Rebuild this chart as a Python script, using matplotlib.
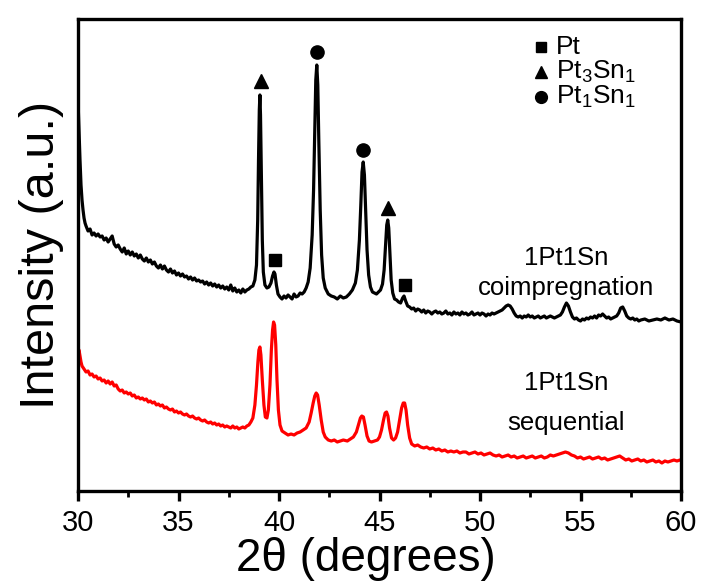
import numpy as np
import matplotlib
matplotlib.use("Agg")
import matplotlib.pyplot as plt

# ---------------- data ----------------
# readings are measured downward from a reference level; intensity = REF - reading
REF = 491

black_theta = [30.00, 30.05, 30.10, 30.15, 30.20, 30.25, 30.30, 30.35,
    30.4, 30.5, 30.6, 30.7, 30.8, 30.9, 31.0, 31.1, 31.2, 31.3, 31.4, 31.5, 31.6, 31.7, 31.8, 31.9,
    32.0, 32.1, 32.2, 32.3, 32.4, 32.5, 32.6, 32.7, 32.8, 32.9, 33.0, 33.1, 33.2, 33.3, 33.4, 33.5,
    33.6, 33.7, 33.8, 33.9, 34.0, 34.1, 34.2, 34.3, 34.4, 34.5, 34.6, 34.7, 34.8, 34.9, 35.0, 35.1,
    35.2, 35.3, 35.4, 35.5, 35.6, 35.7, 35.8, 35.9, 36.0, 36.1, 36.2, 36.3, 36.4, 36.5, 36.6, 36.7,
    36.8, 36.9, 37.0, 37.1, 37.2, 37.3, 37.4, 37.5, 37.6, 37.7, 37.8, 37.9, 38.0, 38.1, 38.2, 38.3,
    38.4, 38.5, 38.6, 38.7,
    38.80, 38.88, 38.94, 38.98, 39.02, 39.05, 39.08, 39.12, 39.17, 39.22, 39.30, 39.40, 39.50,
    39.60, 39.68, 39.75, 39.80, 39.87, 39.95,
    40.05, 40.15, 40.25, 40.35, 40.45, 40.55, 40.65, 40.75, 40.85, 40.95, 41.05, 41.15, 41.25,
    41.35, 41.45, 41.55, 41.65, 41.72, 41.78, 41.83, 41.88, 41.93, 41.98, 42.05, 42.12, 42.20,
    42.30, 42.45, 42.60, 42.75, 42.90, 43.05, 43.20, 43.35, 43.50, 43.65, 43.80, 43.90, 44.00,
    44.07, 44.13, 44.19, 44.25, 44.31, 44.38, 44.46, 44.55, 44.65, 44.75, 44.85, 44.95, 45.05,
    45.15, 45.23, 45.30, 45.36, 45.41, 45.46, 45.52, 45.58, 45.66, 45.75, 45.85, 45.95, 46.05,
    46.15, 46.22, 46.30, 46.40,
    46.5, 46.6, 46.7, 46.8, 46.9, 47.0, 47.1, 47.2, 47.3, 47.4, 47.5, 47.6, 47.7, 47.8, 47.9,
    48.0, 48.1, 48.2, 48.3, 48.4, 48.5, 48.6, 48.7, 48.8, 48.9, 49.0, 49.1, 49.2, 49.3, 49.4,
    49.5, 49.6, 49.7, 49.8, 49.9, 50.0, 50.1, 50.2, 50.3, 50.4, 50.5, 50.6, 50.7, 50.8, 50.9,
    51.0, 51.1, 51.2, 51.3, 51.4, 51.5, 51.6, 51.7, 51.8, 51.9, 52.0, 52.1, 52.2, 52.3, 52.4,
    52.5, 52.6, 52.7, 52.8, 52.9, 53.0, 53.1, 53.2, 53.3, 53.4, 53.5, 53.6, 53.7, 53.8, 53.9,
    54.0, 54.1, 54.2, 54.3, 54.4, 54.5, 54.6, 54.7, 54.8, 54.9, 55.0, 55.1, 55.2, 55.3, 55.4,
    55.5, 55.6, 55.7, 55.8, 55.9, 56.0, 56.1, 56.2, 56.3, 56.4, 56.5, 56.6, 56.7, 56.8, 56.9,
    57.0, 57.1, 57.2, 57.3, 57.4, 57.5, 57.6, 57.7, 57.8, 57.9, 58.0, 58.2, 58.4, 58.6, 58.8,
    59.0, 59.2, 59.4, 59.6, 59.8, 60.0]
black_read = [100, 130, 160, 185, 200, 210, 218, 223,
    226, 231, 229, 235, 233, 236, 234, 237, 236, 240, 238, 242, 239, 236, 244, 247,
    245, 249, 252, 248, 254, 251, 255, 252, 256, 254, 258, 255, 259, 261, 258, 262,
    260, 264, 262, 266, 268, 265, 269, 266, 270, 272, 269, 273, 271, 275, 273, 276,
    274, 277, 276, 279, 277, 280, 278, 281, 280, 282, 281, 284, 282, 285, 283, 286,
    284, 287, 285, 288, 286, 289, 287, 290, 285, 291, 288, 292, 290, 293, 289, 292,
    290, 289, 287, 286,
    280, 265, 220, 160, 110, 95, 115, 170, 240, 272, 285, 288, 287,
    283, 276, 272, 274, 285, 294,
    297, 299, 296, 298, 295, 297, 299, 294, 297, 296, 293, 294, 292,
    288, 282, 268, 235, 190, 130, 80, 65, 85, 140, 210, 255, 278,
    288, 294, 296, 297, 299, 296, 298, 297, 294, 290, 283, 270, 240,
    205, 172, 162, 175, 210, 250, 275, 287, 292, 293, 294, 292, 290,
    284, 270, 245, 225, 220, 228, 255, 280, 293, 299, 300, 302, 303,
    298, 296, 301, 306,
    307, 309, 308, 311, 309, 310, 312, 310, 313, 311, 312, 314, 312, 311, 313,
    312, 314, 313, 311, 314, 313, 315, 312, 314, 313, 315, 312, 314, 313, 315,
    314, 312, 315, 314, 313, 315, 313, 314, 316, 314, 315, 313, 314, 313, 312,
    311, 310, 308, 306, 305, 306, 309, 313, 316, 317, 316, 318, 316, 317, 315,
    317, 316, 318, 317, 316, 318, 317, 316, 318, 317, 316, 317, 318, 317, 316,
    315, 312, 307, 303, 306, 312, 317, 319, 318, 320, 321, 319, 320, 318, 319,
    317, 318, 316, 318, 315, 316, 314, 316, 318, 317, 319, 318, 317, 316, 313,
    308, 307, 311, 316, 318, 319, 318, 320, 319, 321, 320, 319, 321, 320, 319,
    320, 318, 320, 319, 321, 322]

red_theta = [30.00, 30.05, 30.10, 30.15, 30.20, 30.3, 30.4, 30.5, 30.6, 30.7, 30.8, 30.9,
    31.0, 31.1, 31.2, 31.3, 31.4, 31.5, 31.6, 31.7, 31.8, 31.9, 32.0, 32.1, 32.2, 32.3, 32.4,
    32.5, 32.6, 32.7, 32.8, 32.9, 33.0, 33.1, 33.2, 33.3, 33.4, 33.5, 33.6, 33.7, 33.8, 33.9,
    34.0, 34.1, 34.2, 34.3, 34.4, 34.5, 34.6, 34.7, 34.8, 34.9, 35.0, 35.1, 35.2, 35.3, 35.4,
    35.5, 35.6, 35.7, 35.8, 35.9, 36.0, 36.1, 36.2, 36.3, 36.4, 36.5, 36.6, 36.7, 36.8, 36.9,
    37.0, 37.1, 37.2, 37.3, 37.4, 37.5, 37.6, 37.7, 37.8, 37.9, 38.0, 38.1, 38.2, 38.3, 38.4,
    38.5, 38.6, 38.7, 38.8, 38.88, 38.95, 39.00, 39.05, 39.10, 39.17, 39.25, 39.32, 39.40,
    39.47, 39.55, 39.62, 39.68, 39.73, 39.78, 39.84, 39.90, 39.97, 40.05, 40.15, 40.30, 40.45,
    40.60, 40.75, 40.90, 41.05, 41.20, 41.35, 41.50, 41.60, 41.70, 41.78, 41.85, 41.92, 42.00,
    42.10, 42.20, 42.30, 42.45, 42.60, 42.75, 42.90, 43.05, 43.20, 43.40, 43.55, 43.70, 43.85,
    43.95, 44.05, 44.12, 44.20, 44.28, 44.38, 44.48, 44.60, 44.75, 44.90, 45.00, 45.10, 45.20,
    45.28, 45.35, 45.42, 45.50, 45.60, 45.70, 45.80, 45.90, 46.00, 46.10, 46.18, 46.25, 46.32,
    46.40, 46.50, 46.60, 46.75, 46.90, 47.05, 47.20, 47.35, 47.50, 47.65, 47.80, 47.95, 48.10,
    48.25, 48.40, 48.55, 48.70, 48.85, 49.00, 49.15, 49.30, 49.45, 49.60, 49.75, 49.90, 50.05,
    50.20, 50.35, 50.50, 50.65, 50.80, 50.95, 51.10, 51.25, 51.40, 51.55, 51.70, 51.85, 52.00,
    52.15, 52.30, 52.45, 52.60, 52.75, 52.90, 53.05, 53.20, 53.35, 53.50, 53.65, 53.80, 53.95,
    54.10, 54.25, 54.40, 54.55, 54.70, 54.85, 55.00, 55.15, 55.30, 55.45, 55.60, 55.75, 55.90,
    56.05, 56.20, 56.35, 56.50, 56.65, 56.80, 56.95, 57.10, 57.25, 57.40, 57.55, 57.70, 57.85,
    58.00, 58.15, 58.30, 58.45, 58.60, 58.75, 58.90, 59.05, 59.20, 59.35, 59.50, 59.65, 59.80,
    59.95, 60.00]
red_read = [352, 350, 356, 362, 366, 369, 372, 371, 375, 374, 377, 376,
    379, 378, 381, 380, 383, 381, 384, 382, 386, 385, 389, 391, 390, 393, 392,
    394, 393, 396, 395, 398, 397, 399, 398, 400, 399, 402, 401, 403, 402, 405,
    404, 406, 405, 408, 407, 409, 410, 409, 412, 411, 413, 412, 414, 415, 414,
    416, 417, 416, 418, 419, 418, 420, 421, 420, 422, 423, 422, 424, 423, 425,
    424, 426, 425, 427, 426, 427, 428, 426, 428, 427, 429, 428, 427, 428, 426,
    425, 422, 418, 405, 385, 362, 350, 347, 355, 380, 405, 417, 418,
    410, 385, 350, 330, 322, 325, 345, 380, 410, 425, 431, 433, 435,
    434, 435, 433, 432, 430, 428, 422, 413, 403, 396, 393, 395, 405,
    420, 432, 437, 440, 441, 440, 442, 441, 440, 441, 439, 437, 432,
    425, 418, 416, 417, 425, 436, 441, 442, 441, 440, 437, 430, 420,
    413, 412, 416, 428, 438, 440, 438, 432, 420, 408, 403, 403, 410,
    425, 438, 444, 446, 445, 447, 448, 447, 449, 448, 450, 449, 451,
    450, 452, 451, 452, 451, 453, 452, 452, 454, 453, 452, 454, 453,
    455, 454, 453, 455, 456, 455, 457, 456, 455, 457, 456, 458, 457,
    456, 458, 457, 456, 458, 457, 456, 458, 457, 455, 456, 455, 454,
    453, 452, 453, 455, 456, 458, 457, 459, 458, 457, 459, 458, 457,
    459, 458, 460, 459, 458, 457, 456, 458, 460, 459, 461, 460, 459,
    461, 460, 462, 461, 460, 462, 461, 463, 461, 462, 461, 460, 461,
    460, 460]

# phase markers above the coimpregnation peaks
mark_theta = [39.10, 39.80, 41.88, 44.19, 45.44, 46.27]
mark_read = [81, 260, 52, 150, 208, 285]
mark_phase = ["Pt3Sn1", "Pt", "Pt1Sn1", "Pt1Sn1", "Pt3Sn1", "Pt"]

phase_names = ["Pt", "Pt3Sn1", "Pt1Sn1"]
phase_labels = ["Pt", "Pt$_3$Sn$_1$", "Pt$_1$Sn$_1$"]
phase_markers = {"Pt": "s", "Pt3Sn1": "^", "Pt1Sn1": "o"}
phase_msize = {"Pt": 8, "Pt3Sn1": 10, "Pt1Sn1": 9.5}

xticks = [30, 35, 40, 45, 50, 55, 60]

# ---------------- plotting ----------------
plt.rcParams["font.family"] = ["Liberation Sans", "DejaVu Sans"]
plt.rcParams["mathtext.fontset"] = "custom"
plt.rcParams["mathtext.rm"] = "Liberation Sans"
plt.rcParams["mathtext.it"] = "Liberation Sans"

fig = plt.figure(figsize=(7.01, 5.85), dpi=100)
ax = fig.add_axes([78 / 701, (585 - 491) / 585, (681 - 78) / 701, (491 - 19) / 585])

ax.plot(black_theta, REF - np.array(black_read), color="black", lw=2.3)
ax.plot(red_theta, REF - np.array(red_read), color="#ff0000", lw=2.3)

for t, r, p in zip(mark_theta, mark_read, mark_phase):
    ax.plot([t], [REF - r], marker=phase_markers[p], ms=phase_msize[p], color="black", ls="none")

ax.set_xlim(30, 60)
ax.set_ylim(0, 472)
ax.set_xticks(xticks)
ax.set_xticks(np.arange(32.5, 60, 5), minor=True)
ax.set_yticks([])
for s in ax.spines.values():
    s.set_linewidth(2.4)
ax.tick_params(axis="x", which="major", direction="out", length=7, width=2.4,
               labelsize=21, pad=6)
ax.tick_params(axis="x", which="minor", direction="out", length=4, width=2.0)

ax.set_xlabel("2θ (degrees)", fontsize=33)
ax.xaxis.set_label_coords(0.478, -0.097)
ax.set_ylabel("Intensity (a.u.)", fontsize=35, labelpad=10)

ax.text(0.809, 0.494, "1Pt1Sn", transform=ax.transAxes, ha="center", va="center", fontsize=18.5)
ax.text(0.809, 0.430, "coimpregnation", transform=ax.transAxes, ha="center", va="center", fontsize=18.5)
ax.text(0.809, 0.229, "1Pt1Sn", transform=ax.transAxes, ha="center", va="center", fontsize=18.5)
ax.text(0.809, 0.144, "sequential", transform=ax.transAxes, ha="center", va="center", fontsize=18.5)

# phase key (legend), laid out row by row
key_rows_y = [0.941, 0.888, 0.835]
key_msize = {"Pt": 7, "Pt3Sn1": 9, "Pt1Sn1": 8.5}
for n, lab, yk in zip(phase_names, phase_labels, key_rows_y):
    ax.plot([0.768], [yk], transform=ax.transAxes, marker=phase_markers[n],
            ms=key_msize[n], color="black", ls="none", clip_on=False)
    ax.text(0.793, yk, lab, transform=ax.transAxes, ha="left", va="center", fontsize=19)

fig.savefig("out.png", dpi=100)
